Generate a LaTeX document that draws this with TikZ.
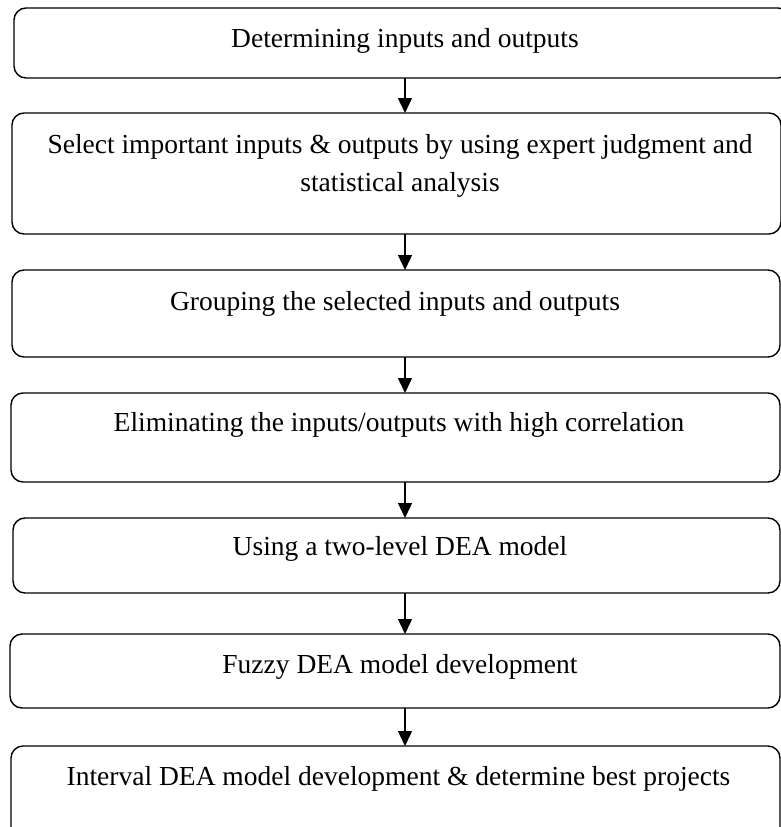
\documentclass[tikz,border=0pt]{standalone}
\usepackage{fontspec}
\setmainfont{Liberation Serif}
\usetikzlibrary{arrows.meta}
\begin{document}
\begin{tikzpicture}[x=1pt,y=-1pt,
  box/.style={draw=black, line width=1.4pt, rounded corners=12pt, inner sep=0pt, outer sep=0pt},
  lbl/.style={anchor=base, inner sep=0pt, font=\fontsize{27.5}{33}\selectfont},
  arr/.style={line width=1.4pt, -{Triangle[width=14pt,length=15pt]}}]
\useasboundingbox (0,0) rectangle (781,827);
\clip (0,0) rectangle (781,827);
\node[box, minimum width=776pt, minimum height=70pt] (b1) at (402,43) {};
\node[box, minimum width=769pt, minimum height=121pt] (b2) at (396.5,173.5) {};
\node[box, minimum width=768pt, minimum height=87pt] (b3) at (396,313.5) {};
\node[box, minimum width=769pt, minimum height=89pt] (b4) at (395.5,437.5) {};
\node[box, minimum width=767pt, minimum height=75pt] (b5) at (396.5,555.5) {};
\node[box, minimum width=770pt, minimum height=74pt] (b6) at (395,671) {};
\node[box, minimum width=769pt, minimum height=94pt] (b7) at (395.5,793) {};
\node[lbl] (t1) at (405,47) {Determining inputs and outputs};
\node[lbl] (t2a) at (400,153) {Select important inputs \& outputs by using expert judgment and};
\node[lbl] (t2b) at (400,191) {statistical analysis};
\node[lbl] (t3) at (395,310) {Grouping the selected inputs and outputs};
\node[lbl] (t4) at (399,431) {Eliminating the inputs/outputs with high correlation};
\node[lbl] (t5) at (400,555) {Using a two-level DEA model};
\node[lbl] (t6) at (400,673) {Fuzzy DEA model development};
\node[lbl] (t7) at (398.5,785) {Interval DEA model development \& determine best projects};
\coordinate (ax) at (405,0);
\draw[arr] (b1.south -| ax) -- (b2.north -| ax);
\draw[arr] (b2.south -| ax) -- (b3.north -| ax);
\draw[arr] (b3.south -| ax) -- (b4.north -| ax);
\draw[arr] (b4.south -| ax) -- (b5.north -| ax);
\draw[arr] (b5.south -| ax) -- (b6.north -| ax);
\draw[arr] (b6.south -| ax) -- (b7.north -| ax);
\end{tikzpicture}
\end{document}
